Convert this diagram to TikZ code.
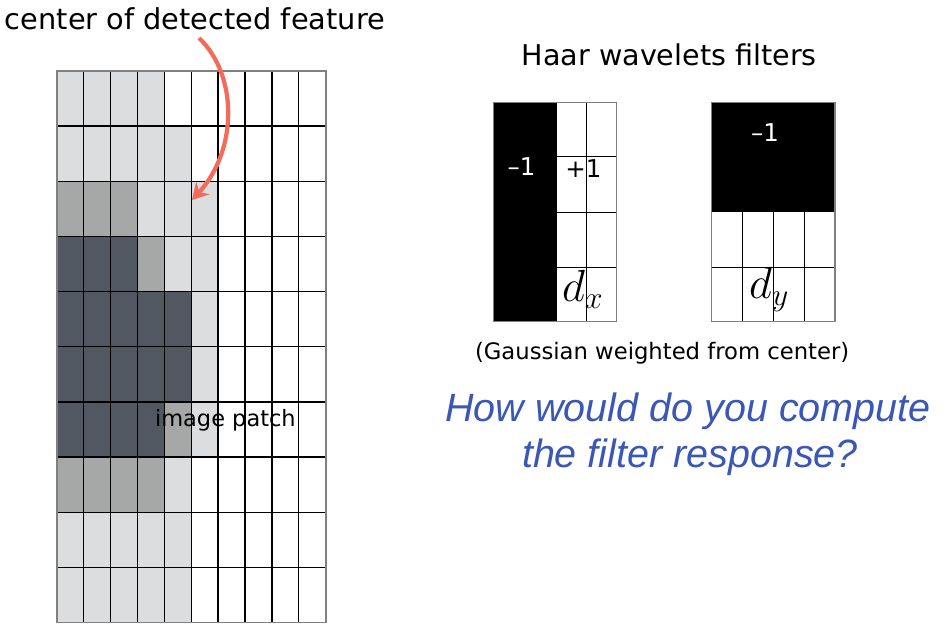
\RequirePackage{fix-cm}
\documentclass[tikz,border=0pt]{standalone}
\usepackage{fontspec}
\usetikzlibrary{arrows.meta}
\newfontfamily\dvs{DejaVu Sans}
\newfontfamily\ars{Liberation Sans}
\definecolor{cL}{HTML}{DCDDDF}
\definecolor{cM}{HTML}{A6A8A8}
\definecolor{cD}{HTML}{525862}
\definecolor{arrowred}{HTML}{F26B5B}
\definecolor{qblue}{HTML}{3A57B5}
\definecolor{bordergray}{HTML}{808080}
\tikzset{
  gridline/.style={black, line width=1.3pt},
  outerline/.style={bordergray, line width=1.6pt},
  filterline/.style={black, line width=1pt},
  lbl/.style={inner sep=0pt, outer sep=0pt, anchor=base west},
  wtxt/.style={inner sep=0pt, text=white, font=\dvs\fontsize{24.5}{28}\selectfont},
  btxt/.style={inner sep=0pt, text=black, font=\dvs\fontsize{24.5}{28}\selectfont},
  mtxt/.style={inner sep=0pt, anchor=base west, font=\fontsize{45}{50}\selectfont},
  qtxt/.style={inner sep=0pt, anchor=base, text=qblue, font=\ars\itshape\fontsize{39.5}{44}\selectfont},
}
\begin{document}
\begin{tikzpicture}[x=1pt,y=-1pt]
\useasboundingbox[fill=white] (0,0) rectangle (947,631);
% image patch cells
\def\cw{26.9}
\def\ch{55.15}
\foreach \r/\lst in {0/{cL,cL,cL,cL},1/{cL,cL,cL,cL,cL},2/{cM,cM,cM,cL,cL,cL},3/{cD,cD,cD,cM,cL,cL},4/{cD,cD,cD,cD,cD,cL},5/{cD,cD,cD,cD,cD,cL},6/{cD,cD,cD,cD,cM,cL},7/{cM,cM,cM,cM,cL},8/{cL,cL,cL,cL,cL},9/{cL,cL,cL,cL,cL}}{
  \foreach \cc [count=\i from 0] in \lst {
    \fill[\cc] ({56.7+\i*\cw},{71+\r*\ch}) rectangle ++(\cw,\ch);
  }
}
\foreach \i in {1,...,9} \draw[gridline] ({56.7+\i*\cw},71) -- ++(0,551.5);
\foreach \j in {1,...,9} \draw[gridline] (56.7,{71+\j*\ch}) -- ++(269,0);
\draw[outerline] (56.7,71) rectangle (325.7,622.5);
% filter dx
\fill[black] (493.3,102.3) rectangle (556,321.7);
\draw[filterline] (556,102.3) -- (556,321.7);
\draw[filterline] (586.7,102.3) -- (586.7,321.7);
\foreach \y in {156.7,212.3,267.3} \draw[filterline] (556,\y) -- (616.7,\y);
\draw[outerline, line width=1.2pt] (493.3,102.3) rectangle (616.7,321.7);
% filter dy
\fill[black] (711.7,102.3) rectangle (835,212.3);
\draw[filterline] (711.7,267.3) -- (835,267.3);
\foreach \x in {742.3,773.3,804.3} \draw[filterline] (\x,212.3) -- (\x,321.7);
\draw[outerline, line width=1.2pt] (711.7,102.3) rectangle (835,321.7);
% texts
\node[lbl, font=\dvs\fontsize{28.8}{34}\selectfont] (title) at (5,29.3) {center of detected feature};
\node[lbl, font=\dvs\fontsize{28.6}{34}\selectfont] (haar) at (521.7,66) {Haar wavelets filters};
\node[lbl, font=\dvs\fontsize{22.7}{26}\selectfont] (gauss) at (475,359) {(Gaussian weighted from center)};
\node[lbl, font=\dvs\fontsize{22.5}{26}\selectfont] (patch) at (155,426) {image patch};
\node[wtxt] (mx) at (521.5,166.5) {–1};
\node[btxt] (px) at (583.5,168.5) {+1};
\node[wtxt] (my) at (765,133) {–1};
\node[mtxt] (dx) at (562,301.5) {$d_x$};
\node[mtxt] (dy) at (749,298.3) {$d_y$};
\node[qtxt] (q1) at (688,421) {How would do you compute};
\node[qtxt] (q2) at (690,467) {the filter response?};
% arrow
\coordinate (astart) at (199,38);
\coordinate (aend) at (192,200);
\draw[arrowred, line width=4.2pt, -{Stealth[length=16pt,width=18pt]}] (astart) .. controls (238,75) and (238,150) .. (aend);
\end{tikzpicture}
\end{document}
